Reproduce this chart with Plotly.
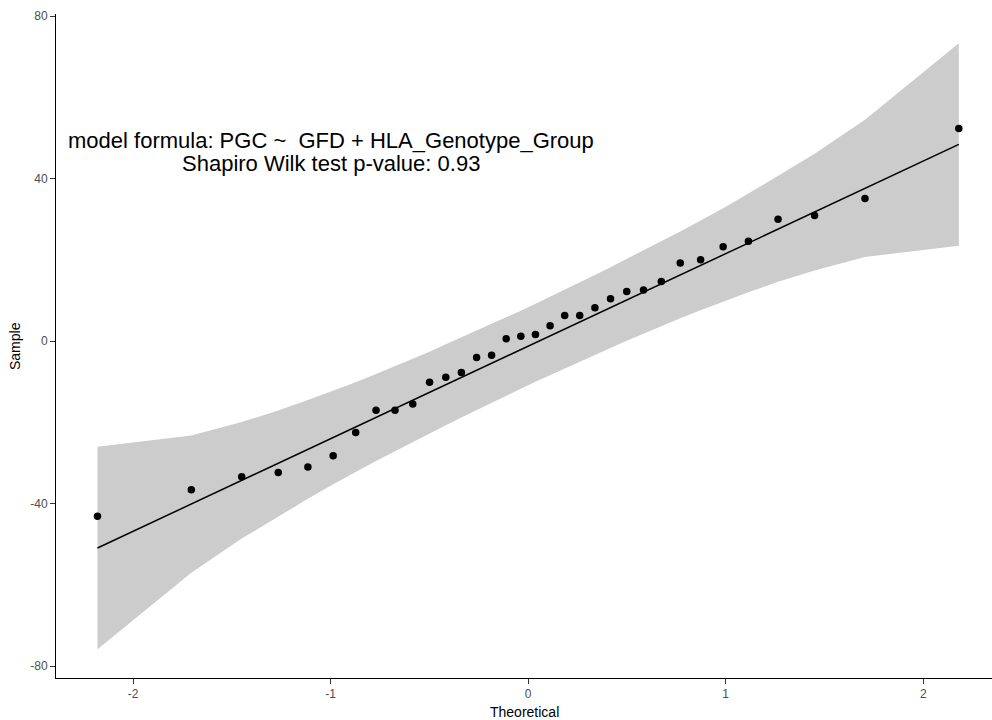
import plotly.graph_objects as go

# Theoretical quantiles (x) and sample values (y)
theoretical = [-2.18, -1.705, -1.45, -1.265, -1.115, -0.987, -0.873, -0.770, -0.674, -0.584,
               -0.499, -0.417, -0.338, -0.261, -0.185, -0.111, -0.037, 0.037, 0.111, 0.185,
               0.261, 0.338, 0.417, 0.499, 0.584, 0.674, 0.770, 0.873, 0.987, 1.115,
               1.265, 1.45, 1.705, 2.18]
sample = [-43.1, -36.6, -33.4, -32.3, -31.0, -28.2, -22.5, -17.0, -17.0, -15.5,
          -10.1, -8.9, -7.7, -4.0, -3.5, 0.6, 1.2, 1.6, 3.8, 6.3,
          6.3, 8.2, 10.4, 12.2, 12.6, 14.7, 19.2, 20.0, 23.2, 24.6,
          30.0, 30.9, 35.1, 52.3]
band_upper = [-26.0, -23.2, -19.9, -17.1, -14.5, -12.2, -10.1, -8.1, -6.2, -4.3,
              -2.6, -0.8, 0.9, 2.5, 4.2, 5.8, 7.5, 9.2, 10.9, 12.6,
              14.4, 16.3, 18.2, 20.2, 22.3, 24.5, 27.0, 29.7, 32.7, 36.3,
              40.6, 46.1, 54.5, 73.3]
band_lower = [-75.8, -57.0, -48.6, -43.1, -38.8, -35.2, -32.2, -29.5, -27.0, -24.8,
              -22.7, -20.7, -18.8, -16.9, -15.1, -13.4, -11.7, -10.0, -8.3, -6.7,
              -5.0, -3.4, -1.7, 0.1, 1.8, 3.7, 5.6, 7.6, 9.7, 12.0,
              14.6, 17.4, 20.7, 23.5]
line_x = [-2.18, 2.18]
line_y = [-50.9, 48.4]

x_ticks = [-2, -1, 0, 1, 2]
y_ticks = [-80, -40, 0, 40, 80]

fig = go.Figure()
fig.add_trace(go.Scatter(
    x=theoretical + theoretical[::-1],
    y=band_upper + band_lower[::-1],
    fill="toself", fillcolor="#CCCCCC", line=dict(width=0, color="rgba(0,0,0,0)"),
    mode="lines", hoverinfo="skip", showlegend=False))
fig.add_trace(go.Scatter(
    x=line_x, y=line_y, mode="lines",
    line=dict(color="black", width=1.5), showlegend=False))
fig.add_trace(go.Scatter(
    x=theoretical, y=sample, mode="markers",
    marker=dict(color="black", size=7.5), showlegend=False))

tickfont = dict(family="Liberation Sans, Arial, sans-serif", size=12, color="#4D4D4D")
fig.update_xaxes(range=[-2.39, 2.348], tickvals=x_ticks, ticktext=[str(v) for v in x_ticks],
                 showgrid=False, zeroline=False, showline=True, linecolor="black", linewidth=1,
                 ticks="outside", ticklen=5, tickcolor="#333333", tickfont=tickfont)
fig.update_yaxes(range=[-82.9, 80.5], tickvals=y_ticks, ticktext=[str(v) for v in y_ticks],
                 showgrid=False, zeroline=False, showline=True, linecolor="black", linewidth=1,
                 ticks="outside", ticklen=5, tickcolor="#333333", tickfont=tickfont)

annfont = dict(family="Liberation Sans, Arial, sans-serif", size=22, color="black")
titlefont = dict(family="Liberation Sans, Arial, sans-serif", size=14, color="black")
fig.update_layout(
    width=992, height=720,
    margin=dict(l=56, r=0, t=14, b=42),
    plot_bgcolor="white", paper_bgcolor="white",
    showlegend=False,
    annotations=[
        dict(text="model formula: PGC ~\u00a0 GFD + HLA_Genotype_Group", x=-1.0, y=49.3,
             xref="x", yref="y", xanchor="center", yanchor="middle", showarrow=False, font=annfont),
        dict(text="Shapiro Wilk test p-value: 0.93", x=-1.0, y=43.8,
             xref="x", yref="y", xanchor="center", yanchor="middle", showarrow=False, font=annfont),
        dict(text="Theoretical", x=0.5, y=0, xref="paper", yref="paper", xanchor="center",
             yanchor="top", yshift=-24, showarrow=False, font=titlefont),
        dict(text="Sample", x=0, y=0.5, xref="paper", yref="paper", xanchor="center",
             yanchor="middle", xshift=-41, textangle=-90, showarrow=False, font=titlefont),
    ],
)

fig.write_html("out.html")
